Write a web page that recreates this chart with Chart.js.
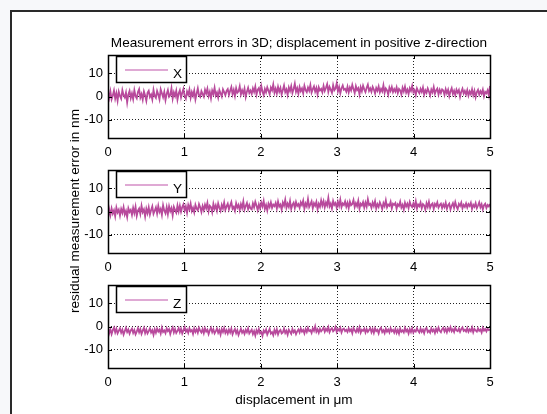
<!DOCTYPE html>
<html>
<head>
<meta charset="utf-8">
<script src="https://cdn.jsdelivr.net/npm/chart.js@4.4.1/dist/chart.umd.min.js"></script>
<style>
  html, body { margin: 0; padding: 0; }
  body { width: 547px; height: 414px; overflow: hidden; background: #f7f8fa; position: relative;
         font-family: "Liberation Sans", Arial, Helvetica, sans-serif; }
  #panel { position: absolute; left: 10px; top: 10px; width: 600px; height: 500px; background: #fff;
           border-left: 2px solid #2a2a2a; border-top: 2px solid #2a2a2a; }
  canvas { position: absolute; left: 0; }
  .txt { position: absolute; color: #000; font-size: 13.6px; line-height: 14px; white-space: nowrap; }
  #title { left: 299px; top: 36px; transform: translateX(-50%); }
  #xlabel { left: 294px; top: 393px; transform: translateX(-50%); }
  #ylabel { left: 75px; top: 211px; transform: translate(-50%, -50%) rotate(-90deg); }
</style>
</head>
<body>
<div id="panel"></div>
<canvas id="cX" width="547" height="123" style="top:45px"></canvas>
<canvas id="cY" width="547" height="123" style="top:160px"></canvas>
<canvas id="cZ" width="547" height="123" style="top:275px"></canvas>
<div class="txt" id="title">Measurement errors in 3D; displacement in positive z-direction</div>
<div class="txt" id="xlabel">displacement in μm</div>
<div class="txt" id="ylabel">residual measurement error in nm</div>
<script>
// axis ticks and limits
const xTicks = [0, 1, 2, 3, 4, 5];
const yTicks = [-10, 0, 10];
const yRange = [-18, 18];

// residual errors in nm (320 samples over 0..5 µm)
const errX = [
  1.9, -0.6, 2.3, -1.2, 0.4, 2.6, -0.9, 1.5, -1.8, 2.1, 0.2, -1.0, 2.8, 0.6, -0.4, 1.7, -2.6, 0.9, 2.4, -0.7,
  1.3, -1.1, 2.7, 0.1, -0.8, 1.9, 3.2, -0.5, 1.0, -1.4, 2.2, 0.4, -1.9, 1.6, 2.5, -0.2, 0.8, -1.3, 2.9, 0.3,
  -0.6, 2.4, 0.9, -1.2, 3.1, 1.4, -0.3, 2.0, -1.6, 1.1, 2.8, -0.1, 0.6, 3.6, -0.9, 1.8, 0.2, 2.5, -1.4, 1.3,
  2.7, -0.4, 1.6, 3.3, 0.1, -1.0, 2.2, 0.8, 3.0, -0.6, 1.9, 0.3, 2.6, -1.3, 1.2, 3.5, 0.5, -0.2, 2.3, 1.0,
  -0.1, 2.9, 1.3, 3.4, 0.2, 2.0, -0.8, 2.6, 1.1, 3.8, 0.4, 1.7, -0.5, 2.8, 1.4, 0.0, 3.1, 1.9, 0.6, 2.4,
  3.2, 0.7, 2.5, 4.1, 1.0, 2.9, 0.3, 3.6, 1.6, 2.2, 4.4, 0.9, 2.7, 1.2, 3.4, -0.2, 2.1, 3.8, 1.5, 2.6,
  1.1, 3.5, 2.0, 4.3, 0.8, 2.9, 3.7, 1.4, 4.6, 2.2, 0.6, 3.3, 1.8, 4.0, 2.5, 1.0, 3.9, 2.7, 5.2, 1.6,
  3.4, 1.3, 4.2, 2.1, 3.7, 0.9, 2.8, 4.8, 1.9, 3.1, 0.7, 3.9, 2.4, 4.5, 1.5, 3.3, 5.6, 2.0, 3.6, 1.2,
  4.1, 2.3, 3.5, 1.4, 4.7, 2.8, 1.9, 3.9, 2.5, 5.0, 1.7, 3.2, 4.4, 2.1, 3.7, 0.9, 4.0, 2.6, 3.3, 1.8,
  4.6, 2.4, 3.8, 5.4, 2.0, 4.2, 3.0, 1.6, 4.9, 2.7, 3.5, 5.8, 2.2, 4.1, 1.4, 3.6, 4.8, 2.9, 3.3, 2.1,
  4.3, 1.8, 3.9, 2.6, 5.1, 3.2, 1.5, 4.5, 2.8, 3.6, 0.9, 4.0, 2.3, 4.7, 3.1, 1.9, 3.8, 5.2, 2.4, 3.5,
  2.0, 4.2, 3.0, 1.3, 3.7, 2.5, 4.4, 1.8, 3.3, 2.2, 4.9, 1.6, 3.5, 2.7, 0.8, 3.9, 2.4, 4.1, 1.9, 3.2,
  2.1, 4.0, 1.5, 3.3, 2.6, 0.9, 3.8, 2.2, 4.3, 1.7, 3.0, 1.1, 3.6, 2.4, 4.6, 1.9, 2.8, 0.6, 3.5, 2.3,
  1.4, 3.3, 2.0, 3.9, 0.8, 2.7, 1.6, 3.5, 2.2, 0.5, 3.0, 1.8, 4.1, 1.2, 2.6, 3.4, 0.9, 2.9, 1.5, 3.1,
  2.6, 0.7, 3.2, 1.4, 2.9, 0.2, 2.3, 3.6, 1.1, 2.5, 0.6, 3.0, 1.7, 2.8, -0.1, 2.1, 3.4, 1.3, 2.4, 0.9,
  2.8, 0.4, 2.2, 1.0, 3.1, 0.6, 2.5, -0.3, 1.9, 2.9, 0.8, 2.3, 1.2, 3.0, 0.1, 2.0, 1.4, 2.7, 0.5, 4.6
];
const errY = [
  -2.8, 0.9, -1.6, 1.3, -0.9, 0.5, -2.1, 1.7, -0.4, 0.8, -1.8, 1.1, -0.6, 1.9, -1.3, 0.2, -2.4, 1.4, -0.2, 0.7,
  -1.5, 1.6, -0.7, 2.1, -1.9, 0.4, 1.3, -1.1, 2.5, -0.3, 0.9, -2.2, 1.2, -0.8, 1.8, -1.4, 0.6, 2.2, -1.0, 0.3,
  1.8, -0.9, 2.4, -0.2, 1.1, -1.5, 2.7, 0.4, -0.8, 1.9, -1.2, 2.3, 0.1, 1.5, -1.7, 2.0, 0.6, -0.5, 2.6, 0.0,
  2.5, -0.1, 1.9, 3.1, 0.4, 2.2, -0.6, 2.8, 1.0, 3.4, 0.2, 1.6, -0.4, 2.9, 1.3, 0.5, 3.2, 1.8, -0.2, 2.4,
  0.6, 3.0, 1.4, 3.7, 0.1, 2.5, 1.9, -0.3, 3.3, 1.1, 2.7, 0.4, 3.5, 1.6, 0.2, 2.9, 1.3, 3.9, 0.7, 2.2,
  3.4, 0.9, 2.6, 4.1, 1.2, 2.0, 0.3, 3.6, 1.7, 2.9, 0.6, 3.2, 1.5, 4.4, 0.8, 2.4, 3.7, 1.0, 2.8, 1.3,
  0.9, 3.5, 1.8, 4.2, 2.6, 0.6, 3.1, 1.4, 3.9, 2.2, 4.6, 1.1, 2.8, 0.5, 3.4, 2.0, 4.0, 1.6, 3.0, 2.3,
  3.7, 1.3, 4.3, 2.1, 3.0, 0.8, 3.9, 2.5, 5.1, 1.6, 3.4, 2.0, 4.6, 1.1, 2.9, 3.8, 1.5, 4.1, 2.4, 3.2,
  1.6, 4.0, 2.8, 4.7, 1.2, 3.5, 2.2, 5.4, 1.9, 3.1, 4.4, 1.4, 3.6, 2.5, 4.2, 0.9, 3.3, 2.0, 4.8, 2.6,
  4.5, 1.8, 3.9, 2.6, 5.9, 2.2, 3.4, 1.3, 4.6, 2.9, 3.7, 1.6, 4.2, 2.4, 5.1, 1.9, 3.5, 2.8, 4.4, 2.1,
  3.8, 1.5, 4.3, 2.7, 3.2, 5.0, 1.9, 3.6, 2.3, 4.7, 1.2, 3.4, 2.6, 4.1, 1.7, 3.9, 2.1, 5.3, 2.8, 3.3,
  1.6, 3.9, 2.4, 4.5, 1.3, 3.2, 2.0, 4.0, 2.7, 1.1, 3.6, 2.3, 4.8, 1.8, 3.0, 2.5, 4.2, 1.4, 3.4, 2.9,
  3.7, 1.2, 3.1, 2.4, 4.3, 1.7, 2.9, 0.9, 3.8, 2.2, 3.4, 1.5, 4.1, 2.6, 1.9, 3.5, 2.0, 4.4, 1.3, 3.0,
  2.3, 3.9, 1.4, 3.2, 2.6, 0.8, 3.6, 2.0, 4.2, 1.6, 2.9, 3.5, 1.1, 3.3, 2.4, 4.0, 1.7, 2.8, 3.4, 1.5,
  3.1, 1.9, 3.8, 1.2, 2.7, 3.4, 0.9, 2.5, 3.6, 1.6, 4.1, 2.2, 1.0, 3.3, 2.4, 3.9, 1.4, 2.9, 2.0, 3.5,
  1.7, 3.2, 2.4, 3.8, 1.1, 2.9, 2.0, 3.6, 1.4, 2.6, 4.0, 1.8, 3.1, 0.9, 2.7, 3.4, 1.5, 2.8, 2.2, 3.3
];
const errZ = [
  -0.7, -2.9, -1.2, -3.3, -1.6, -0.5, -2.6, -1.0, -3.0, -1.9, -0.8, -2.7, -1.4, -3.5, -2.0, -0.6, -2.4, -1.3, -3.1, -1.7,
  -0.9, -2.8, -1.5, -3.4, -2.2, -0.7, -2.5, -1.1, -3.2, -1.8, -0.6, -2.9, -1.3, -3.0, -2.0, -0.8, -2.6, -1.6, -3.6, -1.2,
  -2.7, -0.9, -2.2, -1.4, -3.1, -0.5, -2.4, -1.7, -2.9, -0.8, -2.0, -1.2, -3.3, -1.5, -0.4, -2.6, -1.1, -2.8, -1.9, -0.7,
  -2.5, -1.0, -3.0, -1.6, -0.3, -2.3, -1.3, -2.8, -0.8, -2.1, -1.5, -3.2, -0.9, -2.4, -1.2, -2.7, -0.6, -1.9, -2.6, -1.1,
  -2.9, -0.8, -2.2, -1.4, -3.3, -1.7, -0.6, -2.5, -1.2, -3.0, -2.0, -0.9, -2.7, -1.5, -3.5, -1.1, -2.4, -0.7, -2.8, -1.6,
  -3.1, -1.3, -2.6, -0.9, -3.4, -2.0, -1.1, -2.9, -1.6, -3.7, -2.3, -1.0, -2.7, -1.8, -3.2, -1.4, -2.5, -0.8, -3.0, -2.2,
  -1.4, -3.3, -2.0, -3.9, -1.6, -2.8, -1.1, -3.0, -2.4, -4.1, -1.7, -2.6, -1.3, -3.5, -2.2, -1.0, -3.1, -2.5, -3.8, -1.5,
  -2.9, -1.2, -3.4, -2.0, -1.5, -3.0, -2.6, -0.9, -2.8, -1.8, -3.6, -1.4, -2.3, -3.2, -1.1, -2.5, -1.7, -3.3, -2.1, -1.3,
  -2.6, -0.9, -2.2, -1.5, -3.0, -1.1, -2.4, -0.6, -2.0, -1.6, -2.8, -0.8, -1.9, 0.1, -2.3, -1.2, -2.7, -1.0, -2.1, -1.4,
  -0.5, -2.3, -1.0, -1.9, -0.3, -2.5, -1.3, -0.7, -2.1, -1.5, -0.2, -2.4, -1.1, -1.8, -0.6, -2.6, -1.2, -0.9, -2.0, -1.4,
  -2.4, -0.8, -2.0, -1.2, -2.9, -0.6, -1.7, -2.5, -1.0, -2.2, -0.4, -2.7, -1.4, -1.9, -0.9, -2.6, -1.1, -2.3, -1.5, -0.7,
  -2.5, -1.1, -2.8, -0.8, -2.0, -1.4, -3.0, -1.2, -0.5, -2.4, -1.6, -2.9, -0.9, -2.2, -1.3, -2.6, -0.7, -2.1, -1.5, -2.7,
  -1.0, -2.8, -1.5, -3.1, -0.9, -2.3, -1.7, -2.6, -0.6, -2.1, -1.3, -3.0, -1.1, -2.4, -0.8, -2.7, -1.6, -2.2, -0.7, -1.9,
  -2.6, -0.9, -2.3, -1.4, -2.9, -1.1, -0.6, -2.4, -1.8, -2.7, -0.8, -2.1, -1.3, -2.8, -1.0, -2.2, -0.5, -1.9, -2.5, -1.2,
  -0.6, -2.2, -1.0, -2.5, -0.8, -1.8, -0.3, -2.1, -1.2, -2.4, -0.5, -1.7, -2.0, -0.9, -2.3, -1.1, -0.4, -1.9, -1.4, -2.2,
  -0.7, -2.3, -1.2, -2.0, -0.4, -2.5, -1.0, -1.7, -2.2, -0.8, -1.9, -1.3, -2.6, -0.6, -1.8, -1.1, -2.1, -0.9, -1.6, -1.3
];

// evenly spaced sample positions along the 0..5 µm displacement
const displacement = errX.map((_, i) => i * 5 / (errX.length - 1));

const lineColor = "#b84a9c";
const legendColor = "#d58cc6";
const FONT = "'Liberation Sans', Arial, Helvetica, sans-serif";

// box, inward ticks and the boxed legend (matlab look)
const frame = {
    id: 'frame',
    afterDraw(chart) {
        const { ctx, chartArea: a, scales } = chart;
        ctx.save();
        ctx.strokeStyle = "#000";
        ctx.lineWidth = 1;
        ctx.beginPath();
        scales.x.ticks.forEach(t => {
            const px = Math.round(scales.x.getPixelForValue(t.value)) + 0.5;
            ctx.moveTo(px, a.bottom); ctx.lineTo(px, a.bottom - 4);
            ctx.moveTo(px, a.top); ctx.lineTo(px, a.top + 4);
        });
        scales.y.ticks.forEach(t => {
            const py = Math.round(scales.y.getPixelForValue(t.value)) + 0.5;
            ctx.moveTo(a.left, py); ctx.lineTo(a.left + 4, py);
            ctx.moveTo(a.right, py); ctx.lineTo(a.right - 4, py);
        });
        ctx.stroke();

        ctx.lineWidth = 1.5;
        ctx.strokeRect(a.left + 0.5, a.top + 0.5, a.width, a.height);

        // legend
        const lx = a.left + 8.5, ly = a.top + 1.5;
        ctx.fillStyle = "#fff";
        ctx.fillRect(lx, ly, 70, 26);
        ctx.strokeRect(lx, ly, 70, 26);
        ctx.strokeStyle = legendColor;
        ctx.lineWidth = 1.5;
        ctx.beginPath();
        ctx.moveTo(a.left + 17, a.top + 15);
        ctx.lineTo(a.left + 60, a.top + 15);
        ctx.stroke();
        ctx.fillStyle = "#000";
        ctx.font = "13.6px " + FONT;
        ctx.textBaseline = "alphabetic";
        ctx.fillText(chart.data.datasets[0].label, a.left + 65, a.top + 23);
        ctx.restore();
    }
};

function makePlot(id, name, values) {
    return new Chart(document.getElementById(id), {
        type: 'line',
        data: {
            datasets: [{
                label: name,
                data: values.map((v, i) => ({ x: displacement[i], y: v })),
                borderColor: lineColor,
                borderWidth: 1.8,
                pointRadius: 0,
                tension: 0
            }]
        },
        options: {
            responsive: false,
            animation: false,
            events: [],
            layout: { padding: { left: 68, right: 57, top: 10, bottom: 0 } },
            plugins: { legend: { display: false }, tooltip: { enabled: false } },
            scales: {
                x: {
                    type: 'linear', min: xTicks[0], max: xTicks[xTicks.length - 1],
                    afterFit: s => { s.height = 30; s.paddingLeft = 0; s.paddingRight = 0; },
                    afterBuildTicks: s => { s.ticks = xTicks.map(v => ({ value: v })); },
                    ticks: { color: "#000", padding: 7, font: { family: FONT, size: 13 } },
                    grid: { color: "#222", lineWidth: 1, drawTicks: false },
                    border: { display: false, dash: [1, 2] }
                },
                y: {
                    min: yRange[0], max: yRange[1],
                    afterFit: s => { s.width = 40; s.paddingTop = 0; s.paddingBottom = 0; },
                    afterBuildTicks: s => { s.ticks = yTicks.map(v => ({ value: v })); },
                    ticks: { color: "#000", padding: 5, font: { family: FONT, size: 13 } },
                    grid: { color: "#222", lineWidth: 1, drawTicks: false },
                    border: { display: false, dash: [1, 2] }
                }
            }
        },
        plugins: [frame]
    });
}

makePlot("cX", "X", errX);
makePlot("cY", "Y", errY);
makePlot("cZ", "Z", errZ);
</script>
</body>
</html>
